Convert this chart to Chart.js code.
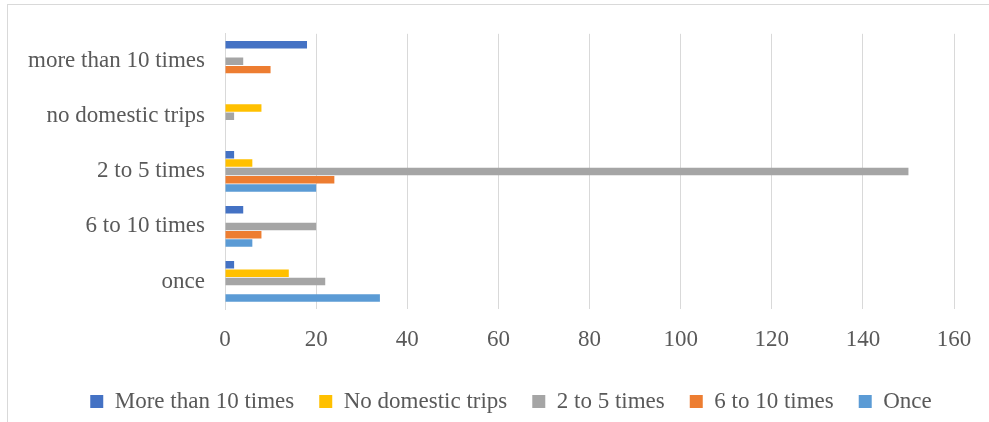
<!DOCTYPE html>
<html>
<head>
<meta charset="utf-8">
<script src="https://cdn.jsdelivr.net/npm/chart.js@4/dist/chart.umd.min.js"></script>
<style>
  html, body { margin: 0; padding: 0; background: #ffffff; overflow: hidden; }
  #wrap { position: relative; width: 989px; height: 422px; }
  #frame { position: absolute; left: 7px; top: 4px; width: 1000px; height: 430px;
           border: 1px solid #d9d9d9; box-sizing: border-box; pointer-events: none; }
  canvas { position: absolute; left: 0; top: 0; }
</style>
</head>
<body>
<div id="wrap">
  <div id="frame"></div>
  <canvas id="chart" width="989" height="422"></canvas>
</div>
<script>
// Trip-frequency groups (top to bottom)
const categories = ['more than 10 times', 'no domestic trips', '2 to 5 times', '6 to 10 times', 'once'];

// Series values per group
const moreThan10 = [18, 0, 2, 4, 2];
const noDomestic = [0, 8, 6, 0, 14];
const twoToFive = [4, 2, 150, 20, 22];
const sixToTen = [10, 0, 24, 8, 0];
const onceVals = [0, 0, 20, 6, 34];

const seriesNames = ['More than 10 times', 'No domestic trips', '2 to 5 times', '6 to 10 times', 'Once'];
const seriesColors = ['#4472C4', '#FFC000', '#A5A5A5', '#ED7D31', '#5B9BD5'];
const seriesData = [moreThan10, noDomestic, twoToFive, sixToTen, onceVals];

// Value axis ticks
const xMin = 0, xMax = 160, xStep = 20;

const FONT = "'Liberation Serif', 'Times New Roman', serif";
const TEXT = '#595959';
const GRID = '#d9d9d9';

// Centre the legend row under the plot area rather than the whole canvas
const legendShift = {
  id: 'legendShift',
  afterLayout(chart) {
    const lg = chart.legend;
    if (lg) { lg.left += 34; lg.right += 34; }
  }
};

new Chart(document.getElementById('chart'), {
  type: 'bar',
  data: {
    labels: categories,
    datasets: seriesData.map((d, i) => ({
      label: seriesNames[i],
      data: d,
      backgroundColor: seriesColors[i],
      borderWidth: 0,
      categoryPercentage: 0.755,
      barPercentage: 0.9
    }))
  },
  options: {
    indexAxis: 'y',
    responsive: false,
    animation: false,
    layout: { padding: { top: 33, right: 35, bottom: -1, left: 0 } },
    scales: {
      x: {
        min: xMin, max: xMax,
        afterFit(scale) { scale.height = 56; },
        ticks: { stepSize: xStep, color: TEXT, font: { family: FONT, size: 23 }, padding: 17 },
        grid: { color: GRID, lineWidth: 1, drawTicks: false },
        border: { display: false }
      },
      y: {
        afterFit(scale) { scale.width = 225; },
        ticks: { color: TEXT, font: { family: FONT, size: 23 }, padding: 20 },
        grid: { display: false, drawTicks: false },
        border: { display: true, color: GRID, width: 1 }
      }
    },
    plugins: {
      legend: {
        position: 'bottom',
        labels: {
          color: TEXT,
          font: { family: FONT, size: 23 },
          boxWidth: 13,
          boxHeight: 13,
          padding: 25
        }
      },
      tooltip: { enabled: false }
    }
  },
  plugins: [legendShift]
});
</script>
</body>
</html>
